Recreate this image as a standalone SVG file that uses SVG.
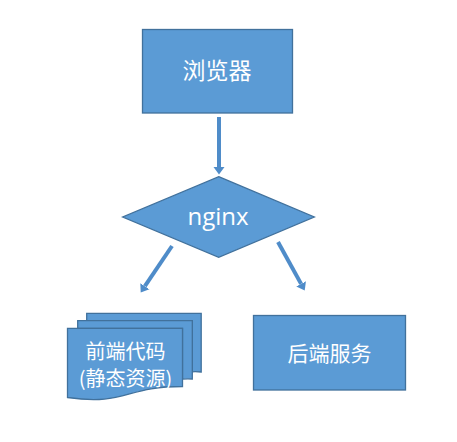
<svg xmlns="http://www.w3.org/2000/svg" width="457" height="442" viewBox="0 0 457 442">
<defs>
<style>
.shape{fill:#5B9BD5;stroke:#41719C;stroke-width:1.3}
.lbl{fill:#FFFFFF;font-family:"Noto Sans CJK SC","Noto Sans",sans-serif;text-anchor:middle}
.conn{stroke:#4F8CC9;stroke-width:4;fill:none}
</style>
<marker id="ah" markerUnits="userSpaceOnUse" markerWidth="8" markerHeight="12" refX="0" refY="5.5" orient="auto" viewBox="0 0 8 11">
<path d="M0,0 L7.5,5.5 L0,11 Z" fill="#4F8CC9"/>
</marker>
</defs>
<rect width="457" height="442" fill="#FFFFFF"/>
<g id="connectors">
<line class="conn" x1="219" y1="117" x2="219" y2="167" marker-end="url(#ah)"/>
<line class="conn" x1="172" y1="246" x2="144.9" y2="286.2" marker-end="url(#ah)"/>
<line class="conn" x1="278" y1="242" x2="301.1" y2="283.9" marker-end="url(#ah)"/>
</g>
<g id="browser">
<rect class="shape" x="142.5" y="29.5" width="150" height="83.5"/>
<text class="lbl" x="217" y="79.4" font-size="23">浏览器</text>
</g>
<g id="nginx">
<polygon class="shape" points="218.7,176.7 314.3,217 218.7,257.3 122.7,217"/>
<text class="lbl" x="218" y="224.5" font-size="24" style="font-family:'Open Sans','Noto Sans',sans-serif">nginx</text>
</g>
<g id="frontend">
<path class="shape" d="M86.7,313.3 L201.2,313.3 L201.2,372 C196,371.5 194,371.6 192.3,371.8 L192.3,320.7 L86.7,320.7 Z"/>
<path class="shape" d="M77.7,320.7 L192.3,320.7 L192.3,379 C188,378.6 185,378.8 182.5,379.2 L182.5,328.3 L77.7,328.3 Z"/>
<path class="shape" d="M67.5,328.3 L182.5,328.3 L182.5,386.5 C125,386.5 125,406 67.5,397.5 Z"/>
<text class="lbl" x="125.5" y="358.6" font-size="20">前端代码</text>
<text class="lbl" x="125.5" y="385.6" font-size="20">(静态资源)</text>
</g>
<g id="backend">
<rect class="shape" x="253.5" y="315.5" width="152" height="74.5"/>
<text class="lbl" x="329.5" y="360.8" font-size="21">后端服务</text>
</g>
</svg>
